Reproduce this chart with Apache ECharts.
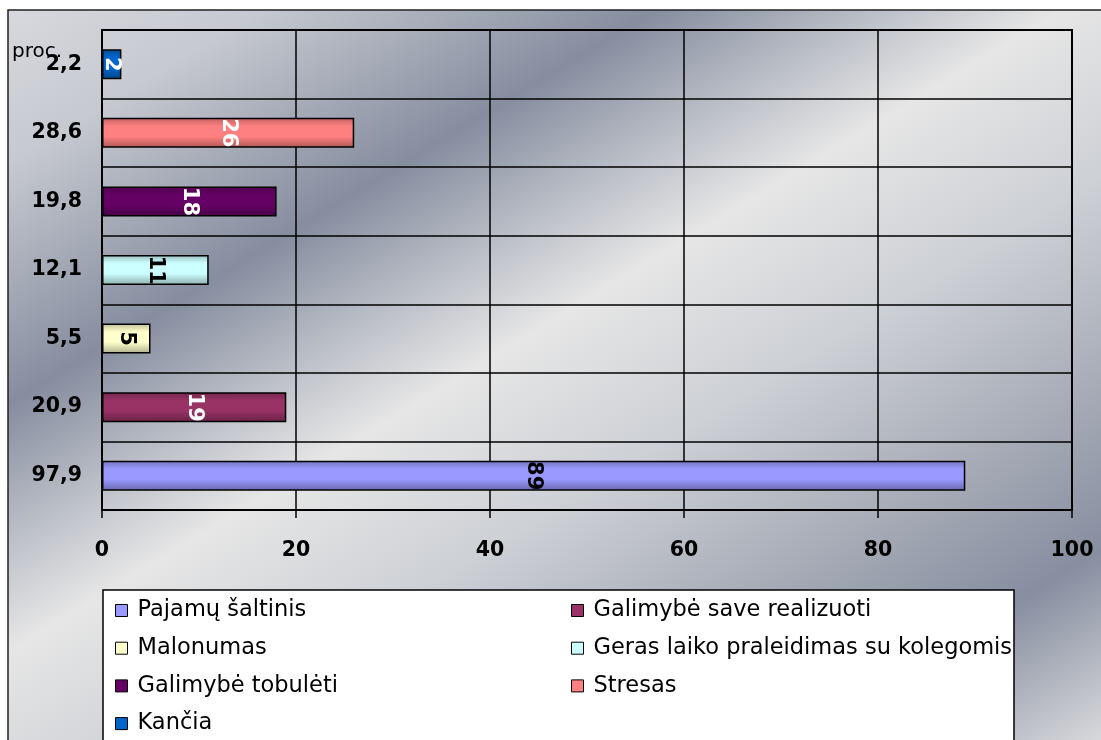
<!DOCTYPE html>
<html>
<head>
<meta charset="utf-8">
<script src="https://cdn.jsdelivr.net/npm/echarts@6/dist/echarts.min.js"></script>
<style>
  html, body { margin: 0; padding: 0; background: #ffffff; }
  #chart { width: 1101px; height: 740px; }
</style>
</head>
<body>
<div id="chart"></div>
<script>
// Category labels on the vertical axis, bottom to top
const categories = ['97,9', '20,9', '5,5', '12,1', '19,8', '28,6', '2,2'];
// One series per answer; each has its value in its own row
const seriesNames = [
  'Pajamų šaltinis',
  'Galimybė save realizuoti',
  'Malonumas',
  'Geras laiko praleidimas su kolegomis',
  'Galimybė tobulėti',
  'Stresas',
  'Kančia'
];
const values = [89, 19, 5, 11, 18, 26, 2];
const unitLabel = 'proc.';

// Styling
const barColors = ['#9999FF', '#993366', '#FFFFCC', '#CCFFFF', '#660066', '#FF8080', '#0066CC'];
const labelColors = ['#000000', '#ffffff', '#000000', '#000000', '#ffffff', '#ffffff', '#ffffff'];
const FONT = 'DejaVu Sans';

function shade(hex, f) {
  const n = parseInt(hex.slice(1), 16);
  const r = Math.round(((n >> 16) & 255) * f);
  const g = Math.round(((n >> 8) & 255) * f);
  const b = Math.round((n & 255) * f);
  return 'rgb(' + r + ',' + g + ',' + b + ')';
}

// Cylinder-like shading across the bar thickness
function barFill(hex) {
  return {
    type: 'linear', x: 0, y: 0, x2: 0, y2: 1,
    colorStops: [
      { offset: 0, color: shade(hex, 0.75) },
      { offset: 0.28, color: hex },
      { offset: 0.62, color: hex },
      { offset: 1, color: shade(hex, 0.68) }
    ]
  };
}

const series = seriesNames.map((name, i) => ({
  name: name,
  type: 'bar',
  barWidth: 30,
  barGap: '-100%',
  data: categories.map((c, j) => (j === i ? values[i] : '-')),
  itemStyle: { color: barFill(barColors[i]), borderColor: '#000', borderWidth: 1.5 },
  label: {
    show: true,
    position: 'inside',
    rotate: -90,
    color: labelColors[i],
    fontFamily: FONT,
    fontWeight: 'bold',
    fontSize: 21
  },
  emphasis: { disabled: true }
}));

function legendData(idx) {
  return idx.map(i => ({ name: seriesNames[i], itemStyle: { color: barColors[i] } }));
}

const legendCommon = {
  orient: 'vertical',
  top: 599,
  padding: 0,
  height: 160,
  itemWidth: 12,
  itemHeight: 12,
  itemGap: 14.7,
  icon: 'rect',
  itemStyle: { borderColor: '#000', borderWidth: 1 },
  textStyle: { fontFamily: FONT, fontSize: 22.5, color: '#000', lineHeight: 22, padding: [0, 0, 0, 5] },
  selectedMode: false
};

const option = {
  animation: false,
  backgroundColor: '#ffffff',
  graphic: [
    {
      type: 'rect', z: -10, silent: true,
      shape: { x: 8, y: 10, width: 1110, height: 750 },
      style: {
        fill: {
          type: 'linear', x: 0, y: 0, x2: 627, y2: 1030, global: true,
          colorStops: [
            { offset: 0.00, color: '#d9dadf' },
            { offset: 0.12, color: '#c6c9d0' },
            { offset: 0.29, color: '#868d9f' },
            { offset: 0.38, color: '#b8bcc5' },
            { offset: 0.465, color: '#e6e6e6' },
            { offset: 0.60, color: '#cdd0d5' },
            { offset: 0.74, color: '#a9adb8' },
            { offset: 0.865, color: '#878ea0' },
            { offset: 1.00, color: '#d8d9dc' }
          ]
        },
        stroke: '#222', lineWidth: 1.5
      }
    },
    {
      type: 'rect', z: -5, silent: true,
      shape: { x: 103, y: 590, width: 911, height: 170 },
      style: { fill: '#ffffff', stroke: '#000', lineWidth: 1.5 }
    },
    {
      type: 'text', z: 10, silent: true,
      left: 12, top: 42,
      style: { text: unitLabel, fontFamily: FONT, fontSize: 20, fill: '#000' }
    }
  ],
  legend: [
    Object.assign({}, legendCommon, { left: 115, data: legendData([0, 2, 4, 6]) }),
    Object.assign({}, legendCommon, { left: 571, data: legendData([1, 3, 5]) })
  ],
  grid: {
    left: 102, top: 30, right: 29, bottom: 230,
    show: true, borderColor: '#000', borderWidth: 2, backgroundColor: 'transparent'
  },
  xAxis: {
    type: 'value', min: 0, max: 100, interval: 20,
    axisLine: { show: true, lineStyle: { color: '#000', width: 2 } },
    axisTick: { show: true, length: 8, lineStyle: { color: '#000', width: 1.5 } },
    splitLine: { show: true, lineStyle: { color: '#000', width: 1.5 } },
    axisLabel: { color: '#000', fontFamily: FONT, fontWeight: 'bold', fontSize: 20.5, margin: 30 }
  },
  yAxis: {
    type: 'category',
    data: categories,
    axisLine: { show: true, lineStyle: { color: '#000', width: 2 } },
    axisTick: { show: false },
    splitLine: { show: true, lineStyle: { color: '#000', width: 1.5 } },
    axisLabel: { color: '#000', fontFamily: FONT, fontWeight: 'bold', fontSize: 20.5, margin: 20 }
  },
  series: series
};

const chart = echarts.init(document.getElementById('chart'), null, { renderer: 'canvas' });
chart.setOption(option);
</script>
</body>
</html>
